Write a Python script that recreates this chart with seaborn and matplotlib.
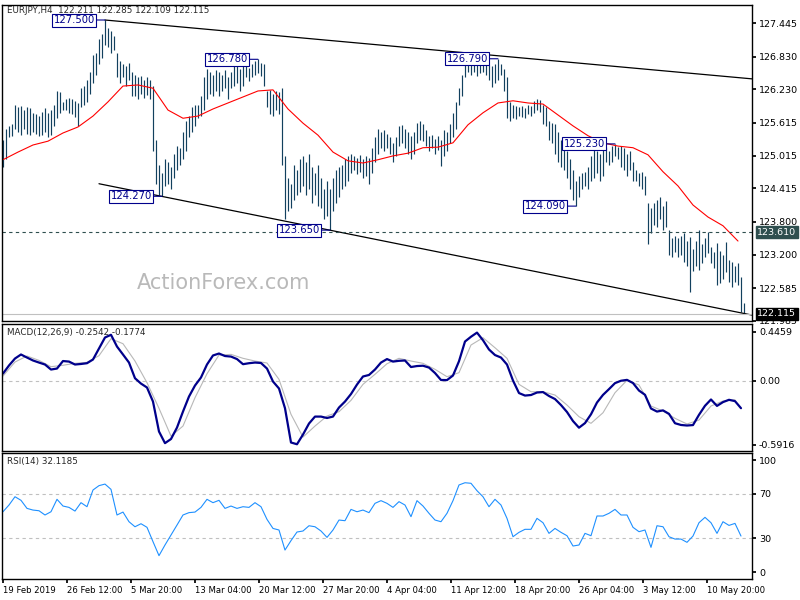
import numpy as np
import matplotlib
matplotlib.use('Agg')
import matplotlib.pyplot as plt
import matplotlib.transforms as mtransforms
import seaborn as sns

sns.set_theme(style='white')
plt.rcParams['font.family'] = ['DejaVu Sans']
plt.rcParams['font.size'] = 6.5

# ---- values (EURJPY H4) ----
bar_high = [
    125.30, 125.50, 125.55, 125.60, 125.95, 125.90, 125.92, 125.85, 125.90, 125.88,
    125.80, 125.78, 125.75, 125.82, 125.88, 125.80, 125.85, 125.95, 126.20, 126.18,
    126.00, 126.05, 126.07, 126.06, 126.02, 125.98, 126.25, 126.30, 126.40, 126.55,
    126.85, 126.90, 127.15, 127.25, 127.50, 127.35, 127.30, 127.20, 126.90, 126.75,
    126.70, 126.65, 126.72, 126.55, 126.50, 126.45, 126.48, 126.40, 126.45, 126.40,
    126.30, 125.30, 124.85, 124.70, 124.95, 124.90, 124.80, 125.05, 125.20, 125.15,
    125.45, 125.65, 125.75, 125.90, 125.95, 125.95, 126.10, 126.45, 126.60, 126.55,
    126.50, 126.58, 126.55, 126.50, 126.58, 126.45, 126.55, 126.65, 126.70, 126.60,
    126.68, 126.72, 126.62, 126.70, 126.75, 126.78, 126.72, 126.70, 126.20, 126.22,
    126.15, 126.20, 126.18, 126.25, 125.00, 124.60, 124.50, 124.85, 124.75, 124.95,
    125.00, 124.90, 125.05, 124.80, 124.70, 124.85, 124.60, 124.40, 124.55, 124.40,
    124.60, 124.75, 124.80, 124.85, 124.95, 125.00, 125.05, 125.00, 124.98, 125.02,
    124.95, 125.00, 124.98, 125.15, 125.35, 125.50, 125.45, 125.48, 125.42, 125.35,
    125.25, 125.35, 125.55, 125.58, 125.50, 125.45, 125.38, 125.45, 125.62, 125.65,
    125.60, 125.48, 125.38, 125.40, 125.32, 125.38, 125.30, 125.48, 125.45, 125.60,
    125.80, 126.00, 126.25, 126.50, 126.75, 126.78, 126.72, 126.75, 126.78, 126.70,
    126.76, 126.74, 126.68, 126.65, 126.70, 126.79, 126.70, 126.60, 126.45, 126.00,
    125.95, 125.92, 125.90, 125.92, 125.88, 125.95, 125.92, 126.02, 126.05, 126.03,
    125.95, 125.90, 125.65, 125.62, 125.60, 125.45, 125.30, 125.25, 125.10, 124.95,
    124.75, 124.55, 124.65, 124.70, 124.72, 124.80, 125.00, 125.15, 125.10, 125.05,
    125.15, 125.18, 125.10, 125.20, 125.23, 125.18, 125.20, 125.15, 125.05, 125.10,
    124.90, 124.75, 124.70, 124.72, 124.65, 124.15, 124.05, 124.15, 124.20, 124.25,
    124.10, 124.18, 123.65, 123.50, 123.55, 123.50, 123.55, 123.60, 123.45, 123.53,
    123.30, 123.45, 123.65, 123.40, 123.50, 123.62, 123.35, 123.25, 123.42, 123.26,
    123.20, 123.44, 123.10, 123.07, 123.00, 123.05, 122.79, 122.32,
]
bar_low = [
    124.80, 124.95, 125.35, 125.38, 125.50, 125.45, 125.40, 125.50, 125.42, 125.40,
    125.45, 125.42, 125.38, 125.40, 125.45, 125.36, 125.40, 125.55, 125.70, 125.80,
    125.85, 125.85, 125.80, 125.78, 125.72, 125.55, 125.90, 125.95, 126.00, 126.15,
    126.35, 126.50, 126.70, 126.80, 127.05, 127.00, 126.90, 126.95, 126.45, 126.35,
    126.45, 126.30, 126.40, 126.10, 126.10, 126.05, 126.15, 126.08, 126.12, 126.05,
    125.10, 124.50, 124.30, 124.27, 124.45, 124.50, 124.40, 124.60, 124.75, 124.85,
    124.95, 125.10, 125.35, 125.45, 125.55, 125.70, 125.75, 125.85, 126.05, 126.15,
    126.10, 126.20, 126.10, 126.20, 126.25, 126.05, 126.25, 126.30, 126.35, 126.20,
    126.30, 126.45, 126.38, 126.45, 126.50, 126.52, 126.48, 126.30, 125.90, 125.78,
    125.75, 125.85, 125.78, 124.85, 123.85, 124.00, 124.05, 124.20, 124.30, 124.35,
    124.45, 124.30, 124.40, 124.15, 124.30, 124.10, 124.05, 123.85, 123.90, 123.65,
    124.00, 124.15, 124.25, 124.40, 124.45, 124.55, 124.70, 124.75, 124.68, 124.72,
    124.60, 124.65, 124.50, 124.70, 124.90, 125.05, 125.15, 125.10, 125.15, 125.05,
    124.90, 125.00, 125.20, 125.25, 125.15, 125.05, 124.95, 125.05, 125.25, 125.30,
    125.28, 125.20, 125.10, 125.15, 125.05, 125.12, 124.82, 125.00, 125.10, 125.25,
    125.35, 125.50, 125.95, 126.10, 126.45, 126.55, 126.50, 126.55, 126.48, 126.52,
    126.55, 126.50, 126.40, 126.28, 126.35, 126.40, 126.50, 126.20, 125.70, 125.65,
    125.70, 125.68, 125.75, 125.72, 125.70, 125.78, 125.74, 125.80, 125.85, 125.82,
    125.60, 125.55, 125.30, 125.25, 125.05, 124.90, 124.80, 124.75, 124.60, 124.40,
    124.20, 124.09, 124.25, 124.40, 124.45, 124.40, 124.55, 124.60, 124.70, 124.55,
    124.65, 124.90, 124.85, 124.90, 125.00, 124.95, 124.80, 124.75, 124.65, 124.75,
    124.55, 124.55, 124.45, 124.40, 124.30, 123.40, 123.60, 123.75, 123.70, 123.85,
    123.65, 123.70, 123.20, 123.15, 123.25, 123.15, 123.20, 123.07, 123.00, 122.52,
    122.90, 123.00, 122.92, 123.05, 123.15, 123.23, 123.05, 122.95, 122.65, 122.68,
    122.75, 122.89, 122.70, 122.60, 122.70, 122.65, 122.15, 122.11,
]

# red moving average, one reading every 5 bars
ma_step = 5
ma_vals = [
    124.94, 125.08, 125.21, 125.28, 125.43, 125.54, 125.74, 126.00, 126.29, 126.31,
    126.25, 125.85, 125.70, 125.74, 125.87, 125.98, 126.09, 126.20, 126.22, 125.87,
    125.61, 125.39, 125.08, 124.92, 124.88, 124.94, 125.01, 125.06, 125.16, 125.17,
    125.25, 125.58, 125.80, 125.98, 126.02, 125.98, 125.96, 125.76, 125.56, 125.38,
    125.25, 125.19, 125.16, 125.03, 124.72, 124.46, 124.11, 123.89, 123.73, 123.45,
]

# MACD(12,26,9): main line every 2 bars, signal every 4 bars
macd_step = 2
macd_main = [
    0.064, 0.138, 0.202, 0.239, 0.211, 0.184, 0.165, 0.147, 0.101, 0.110,
    0.179, 0.174, 0.147, 0.152, 0.159, 0.193, 0.294, 0.395, 0.420, 0.312,
    0.239, 0.165, 0.021, -0.028, -0.064, -0.193, -0.468, -0.575, -0.537, -0.432,
    -0.285, -0.147, -0.046, 0.028, 0.147, 0.230, 0.248, 0.225, 0.220, 0.197,
    0.150, 0.159, 0.165, 0.161, 0.110, -0.009, -0.073, -0.254, -0.569, -0.585,
    -0.496, -0.395, -0.331, -0.331, -0.344, -0.331, -0.248, -0.193, -0.124, -0.037,
    0.037, 0.051, 0.101, 0.165, 0.197, 0.174, 0.181, 0.184, 0.124, 0.133,
    0.136, 0.119, 0.069, 0.005, 0.004, 0.046, 0.177, 0.358, 0.402, 0.440,
    0.370, 0.285, 0.234, 0.211, 0.147, 0.000, -0.115, -0.138, -0.133, -0.110,
    -0.106, -0.142, -0.170, -0.225, -0.289, -0.372, -0.433, -0.391, -0.310, -0.202,
    -0.132, -0.079, -0.024, -0.002, 0.006, -0.023, -0.092, -0.131, -0.257, -0.285,
    -0.274, -0.306, -0.392, -0.408, -0.413, -0.409, -0.315, -0.232, -0.174, -0.233,
    -0.198, -0.177, -0.189, -0.254,
]
signal_step = 4
macd_signal = [
    0.041, 0.170, 0.225, 0.185, 0.127, 0.140, 0.158, 0.167, 0.228, 0.384,
    0.338, 0.179, -0.020, -0.255, -0.510, -0.418, -0.158, 0.062, 0.234, 0.240,
    0.204, 0.179, 0.161, 0.011, -0.310, -0.519, -0.418, -0.326, -0.286, -0.182,
    -0.035, 0.057, 0.154, 0.204, 0.179, 0.158, 0.103, 0.035, 0.072, 0.326,
    0.393, 0.301, 0.204, -0.035, -0.103, -0.103, -0.133, -0.225, -0.332, -0.393,
    -0.296, -0.112, 0.002, -0.041, -0.234, -0.280, -0.347, -0.399, -0.363, -0.234,
    -0.188, -0.177,
]

# RSI(14), one reading every 2 bars
rsi_step = 2
rsi_vals = [
    53.8, 59.8, 67.2, 64.0, 56.8, 55.3, 54.7, 50.9, 53.8, 64.9,
    58.9, 57.7, 54.4, 61.9, 58.3, 73.2, 77.1, 78.5, 73.8, 50.9,
    53.5, 44.9, 40.4, 43.1, 39.9, 27.1, 14.6, 24.1, 33.0, 41.9,
    50.9, 53.0, 53.5, 57.7, 64.9, 61.9, 64.0, 56.8, 58.9, 56.8,
    58.3, 57.7, 61.9, 58.3, 47.0, 38.9, 37.5, 19.6, 28.0, 35.7,
    36.6, 41.3, 40.4, 36.6, 30.9, 37.5, 46.4, 45.8, 55.9, 53.8,
    55.3, 53.0, 61.3, 63.7, 61.3, 57.7, 62.8, 59.8, 49.4, 63.7,
    58.9, 52.4, 46.4, 44.9, 52.4, 63.7, 77.7, 79.7, 79.2, 72.6,
    67.2, 58.3, 64.9, 59.8, 47.9, 31.5, 35.4, 38.1, 38.1, 47.9,
    44.0, 34.5, 38.9, 35.4, 32.4, 23.2, 24.1, 34.5, 32.4, 50.0,
    50.0, 52.4, 55.9, 50.9, 50.9, 39.9, 36.0, 37.5, 22.0, 41.3,
    40.4, 31.5, 29.4, 29.4, 26.5, 32.1, 44.0, 48.8, 44.0, 34.5,
    44.9, 41.6, 43.4, 32.1,
]

# swing labels and channel lines
pivot_bar = [34, 85, 53, 109, 165, 204, 191]
pivot_val = [127.500, 126.780, 124.270, 123.650, 126.790, 125.230, 124.090]
upper_bar = [34, 250]
upper_val = [127.50, 126.42]
lower_bar = [32, 250]
lower_val = [124.50, 122.09]
level = 123.610
last_price = 122.115

price_ticks = [127.445, 126.830, 126.230, 125.615, 125.015, 124.415,
               123.800, 123.200, 122.585, 121.985]
macd_ticks = [0.4459, 0.0, -0.5916]
macd_tick_labels = ['0.4459', '0.00', '-0.5916']
rsi_ticks = [0, 30, 70, 100]
date_labels = ['19 Feb 2019', '26 Feb 12:00', '5 Mar 20:00', '13 Mar 04:00',
               '20 Mar 12:00', '27 Mar 20:00', '4 Apr 04:00', '11 Apr 12:00',
               '18 Apr 20:00', '26 Apr 04:00', '3 May 12:00', '10 May 20:00']
bars_per_label = 64 / 3

bar_color = '#12405e'
navy = '#00008b'

# ---- layout: three stacked panels like the terminal window ----
fig = plt.figure(figsize=(8, 6), dpi=100)
W, H = 800, 600
ax1 = fig.add_axes([2 / W, 1 - 321 / H, 750 / W, 316 / H])
ax2 = fig.add_axes([2 / W, 1 - 451 / H, 750 / W, 127 / H], sharex=ax1)
ax3 = fig.add_axes([2 / W, 1 - 579 / H, 750 / W, 126 / H], sharex=ax1)

for ax in (ax1, ax2, ax3):
    ax.set_facecolor('white')
    for s in ax.spines.values():
        s.set_color('black')
        s.set_linewidth(1)
    ax.yaxis.tick_right()
    ax.tick_params(axis='y', direction='out', length=3, pad=2, labelsize=6.8,
                   colors='black', right=True, left=False)
    ax.tick_params(axis='x', bottom=False, labelbottom=False)
    ax.grid(False)

ax1.set_xlim(-0.33, 249.67)

# main price panel
idx = np.arange(len(bar_high))
ax1.vlines(idx, bar_low, bar_high, color=bar_color, lw=0.85)
ma_x = np.arange(len(ma_vals)) * ma_step
sns.lineplot(x=ma_x, y=ma_vals, ax=ax1, color='red', lw=0.8)
ax1.plot(upper_bar, upper_val, color='black', lw=0.9)
ax1.plot(lower_bar, lower_val, color='black', lw=0.9)
ax1.axhline(level, color='#2f4f4f', lw=0.8, ls=(0, (3, 3)))
ax1.axhline(last_price, color='#c0c0c0', lw=0.8)
ax1.set_ylim(121.985, 127.775)
ax1.set_yticks(price_ticks)
ax1.set_yticklabels([f'{v:.3f}' for v in price_ticks])

for b, v in zip(pivot_bar, pivot_val):
    ax1.annotate(f'{v:.3f}', xy=(b, v), xytext=(-10, 0), textcoords='offset pixels',
                 ha='right', va='center', fontsize=7.2, color=navy,
                 bbox=dict(boxstyle='square,pad=0.15', fc='white', ec=navy, lw=0.8),
                 arrowprops=dict(arrowstyle='-', color=navy, lw=0.8,
                                 shrinkA=0, shrinkB=0))

trans = mtransforms.blended_transform_factory(ax1.transAxes, ax1.transData)
ax1.text(1.007, level, f'{level:.3f}', transform=trans, ha='left', va='center',
         fontsize=6.8, color='white',
         bbox=dict(boxstyle='square,pad=0.15', fc='#2f4f4f', ec='#2f4f4f'))
ax1.text(1.007, last_price, f'{last_price:.3f}', transform=trans, ha='left',
         va='center', fontsize=6.8, color='white',
         bbox=dict(boxstyle='square,pad=0.15', fc='black', ec='black'))

ax1.text(0.0067, 0.984, 'EURJPY,H4  122.211 122.285 122.109 122.115',
         transform=ax1.transAxes, ha='left', va='center', fontsize=6.3)
ax1.text(0.296, 0.12, 'ActionForex.com', transform=ax1.transAxes, ha='center',
         va='center', fontsize=15, color='#b9b9b9')

# MACD panel
macd_x = np.arange(len(macd_main)) * macd_step
sig_x = np.arange(len(macd_signal)) * signal_step
ax2.axhline(0, color='#c0c0c0', lw=0.8, ls=(0, (3, 3)))
sns.lineplot(x=sig_x, y=macd_signal, ax=ax2, color='#b8b8b8', lw=0.8)
sns.lineplot(x=macd_x, y=macd_main, ax=ax2, color=navy, lw=1.6)
ax2.set_ylim(-0.647, 0.519)
ax2.set_yticks(macd_ticks)
ax2.set_yticklabels(macd_tick_labels)
ax2.text(0.0067, 0.93, 'MACD(12,26,9) -0.2542 -0.1774', transform=ax2.transAxes,
         ha='left', va='center', fontsize=6.3)

# RSI panel
rsi_x = np.arange(len(rsi_vals)) * rsi_step
ax3.axhline(70, color='#c0c0c0', lw=0.8, ls=(0, (3, 3)))
ax3.axhline(30, color='#c0c0c0', lw=0.8, ls=(0, (3, 3)))
sns.lineplot(x=rsi_x, y=rsi_vals, ax=ax3, color='#1e90ff', lw=0.8)
ax3.set_ylim(-6.25, 106.25)
ax3.set_yticks(rsi_ticks)
ax3.set_yticklabels([str(v) for v in rsi_ticks])
ax3.text(0.0067, 0.93, 'RSI(14) 32.1185', transform=ax3.transAxes,
         ha='left', va='center', fontsize=6.3)

date_pos = np.arange(len(date_labels)) * bars_per_label
ax3.set_xticks(date_pos)
ax3.set_xticklabels(date_labels, ha='left')
ax3.tick_params(axis='x', bottom=True, labelbottom=True, direction='out',
                length=3, pad=2, labelsize=6.1, colors='black')

for ax in (ax1, ax2, ax3):
    ax.set_xlabel('')
    ax.set_ylabel('')

fig.savefig('out.png', dpi=100, facecolor='white')
